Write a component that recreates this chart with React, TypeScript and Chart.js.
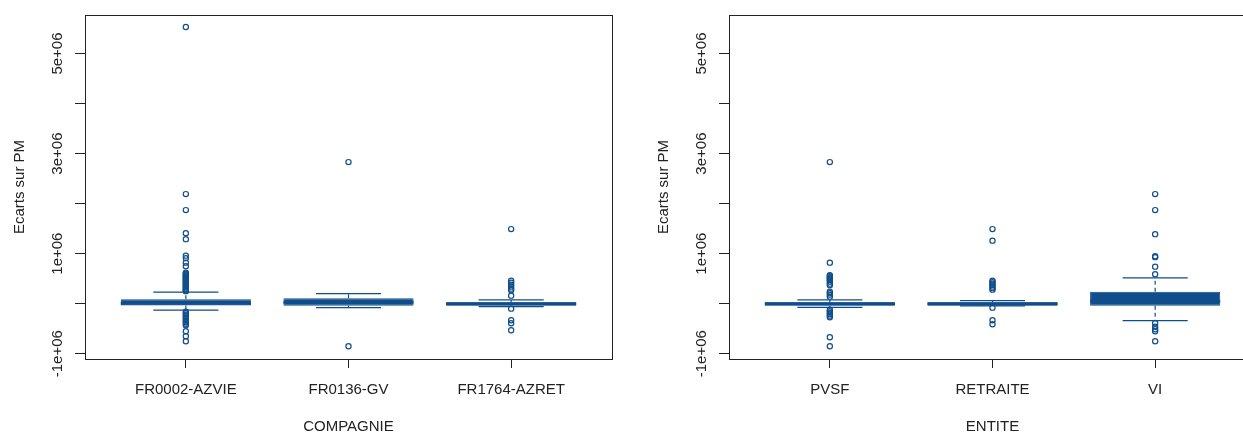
import React, { useEffect, useRef } from "react";
import { Chart, registerables } from "chart.js";

Chart.register(...registerables);

// ---- Data -----------------------------------------------------------------

const COMPAGNIE_CATEGORIES = ["FR0002-AZVIE", "FR0136-GV", "FR1764-AZRET"];
const COMPAGNIE_LOWER_WHISKER = [-130000, -80000, -60000];
const COMPAGNIE_Q1 = [-35000, -40000, -40000];
const COMPAGNIE_MEDIAN = [10000, 30000, 0];
const COMPAGNIE_Q3 = [90000, 110000, 30000];
const COMPAGNIE_UPPER_WHISKER = [230000, 200000, 74000];
const COMPAGNIE_OUTLIERS = [
  [
    5530000, 2190000, 1870000, 1410000, 1290000, 960000, 910000, 820000, 750000,
    620000, 600000, 580000, 560000, 540000, 520000, 500000, 480000, 460000,
    440000, 420000, 400000, 380000, 360000, 340000, 320000, 300000, 280000,
    260000, 250000, -160000, -190000, -220000, -250000, -280000, -310000,
    -340000, -370000, -400000, -430000, -550000, -650000, -750000,
  ],
  [2830000, -850000],
  [
    1490000, 460000, 420000, 380000, 340000, 300000, 270000, 160000, -100000,
    -330000, -390000, -530000,
  ],
];

const ENTITE_CATEGORIES = ["PVSF", "RETRAITE", "VI"];
const ENTITE_LOWER_WHISKER = [-75000, -45000, -340000];
const ENTITE_Q1 = [-40000, -40000, -40000];
const ENTITE_MEDIAN = [0, 0, 50000];
const ENTITE_Q3 = [30000, 30000, 240000];
const ENTITE_UPPER_WHISKER = [74000, 60000, 515000];
const ENTITE_OUTLIERS = [
  [
    2830000, 820000, 570000, 550000, 530000, 510000, 490000, 470000, 440000,
    400000, 370000, 240000, 210000, 180000, 140000, -120000, -150000, -180000,
    -210000, -240000, -270000, -670000, -850000,
  ],
  [
    1490000, 1260000, 460000, 430000, 400000, 370000, 340000, 310000, 280000,
    -80000, -330000, -410000,
  ],
  [
    2190000, 1870000, 1390000, 950000, 930000, 740000, 590000, -390000,
    -460000, -510000, -550000, -750000,
  ],
];

const Y_TICKS = [-1000000, 0, 1000000, 2000000, 3000000, 4000000, 5000000];
const Y_TICK_LABELS = ["-1e+06", "", "1e+06", "", "3e+06", "", "5e+06"];
const Y_TITLE = "Ecarts sur PM";

// ---- Styling --------------------------------------------------------------

const BOX_COLOR = "#104E8B";
const AXIS_COLOR = "#222222";
const TEXT_COLOR = "#222222";
const FONT_FAMILY = "'Liberation Sans', Arial, Helvetica, sans-serif";
const FONT_SIZE = 15;

const Y_MIN = -1106000;
const Y_MAX = 5770000;
const X_MIN = 0.38;
const X_MAX = 3.62;
const BOX_HALF = 0.4;
const CAP_HALF = 0.2;

const CANVAS_W = 643;
const CANVAS_H = 432;
const PLOT_LEFT = 85;
const PLOT_RIGHT = 612;
const PLOT_TOP = 15;
const PLOT_BOTTOM = 359;

type Panel = {
  categories: string[];
  lo: number[];
  q1: number[];
  med: number[];
  q3: number[];
  hi: number[];
  outliers: number[][];
  xTitle: string;
};

const COMPAGNIE_PANEL: Panel = {
  categories: COMPAGNIE_CATEGORIES,
  lo: COMPAGNIE_LOWER_WHISKER,
  q1: COMPAGNIE_Q1,
  med: COMPAGNIE_MEDIAN,
  q3: COMPAGNIE_Q3,
  hi: COMPAGNIE_UPPER_WHISKER,
  outliers: COMPAGNIE_OUTLIERS,
  xTitle: "COMPAGNIE",
};

const ENTITE_PANEL: Panel = {
  categories: ENTITE_CATEGORIES,
  lo: ENTITE_LOWER_WHISKER,
  q1: ENTITE_Q1,
  med: ENTITE_MEDIAN,
  q3: ENTITE_Q3,
  hi: ENTITE_UPPER_WHISKER,
  outliers: ENTITE_OUTLIERS,
  xTitle: "ENTITE",
};

// Draws the full rectangle around the plotting region, R style.
const framePlugin = {
  id: "plotFrame",
  afterDraw(chart: any) {
    const { ctx, chartArea: a } = chart;
    ctx.save();
    ctx.strokeStyle = AXIS_COLOR;
    ctx.lineWidth = 1;
    const l = Math.round(a.left) + 0.5;
    const t = Math.round(a.top) + 0.5;
    const r = Math.round(a.right) + 0.5;
    const b = Math.round(a.bottom) + 0.5;
    ctx.strokeRect(l, t, r - l, b - t);
    ctx.restore();
  },
};

function buildConfig(p: Panel): any {
  const boxes: any[] = [];
  const medians: any[] = [];
  const stems: any[] = [];
  const caps: any[] = [];
  const points: any[] = [];

  p.categories.forEach((_, i) => {
    const c = i + 1;
    boxes.push({ x: c, y: [p.q1[i], p.q3[i]] });
    medians.push(
      { x: c - BOX_HALF, y: p.med[i] },
      { x: c + BOX_HALF, y: p.med[i] },
      { x: c, y: null }
    );
    stems.push(
      { x: c, y: p.q3[i] },
      { x: c, y: p.hi[i] },
      { x: c, y: null },
      { x: c, y: p.q1[i] },
      { x: c, y: p.lo[i] },
      { x: c, y: null }
    );
    caps.push(
      { x: c - CAP_HALF, y: p.hi[i] },
      { x: c + CAP_HALF, y: p.hi[i] },
      { x: c, y: null },
      { x: c - CAP_HALF, y: p.lo[i] },
      { x: c + CAP_HALF, y: p.lo[i] },
      { x: c, y: null }
    );
    p.outliers[i].forEach((v) => points.push({ x: c, y: v }));
  });

  const font = { family: FONT_FAMILY, size: FONT_SIZE };

  return {
    type: "bar",
    data: {
      datasets: [
        {
          type: "scatter",
          data: points,
          order: 0,
          pointStyle: "circle",
          pointRadius: 2.6,
          pointBorderWidth: 1.2,
          borderColor: BOX_COLOR,
          backgroundColor: "rgba(255,255,255,0)",
          pointBackgroundColor: "rgba(255,255,255,0)",
          pointBorderColor: BOX_COLOR,
          clip: false,
        },
        {
          type: "line",
          data: caps,
          order: 1,
          borderColor: BOX_COLOR,
          borderWidth: 1.3,
          pointRadius: 0,
          spanGaps: false,
        },
        {
          type: "line",
          data: stems,
          order: 2,
          borderColor: BOX_COLOR,
          borderWidth: 1.2,
          borderDash: [4, 3],
          pointRadius: 0,
          spanGaps: false,
        },
        {
          type: "line",
          data: medians,
          order: 3,
          borderColor: BOX_COLOR,
          borderWidth: 3,
          pointRadius: 0,
          spanGaps: false,
        },
        {
          type: "bar",
          data: boxes,
          order: 4,
          backgroundColor: BOX_COLOR,
          borderColor: BOX_COLOR,
          borderWidth: 1,
          borderSkipped: false,
          barPercentage: 2 * BOX_HALF,
          categoryPercentage: 1,
        },
      ],
    },
    options: {
      responsive: false,
      animation: false,
      events: [],
      layout: {
        padding: {
          top: PLOT_TOP,
          right: CANVAS_W - PLOT_RIGHT,
          left: 0,
          bottom: 0,
        },
      },
      plugins: {
        legend: { display: false },
        tooltip: { enabled: false },
      },
      scales: {
        x: {
          type: "linear",
          min: X_MIN,
          max: X_MAX,
          offset: false,
          afterBuildTicks: (s: any) => {
            s.ticks = p.categories.map((_, i) => ({ value: i + 1 }));
          },
          afterFit: (s: any) => {
            s.height = CANVAS_H - PLOT_BOTTOM;
          },
          ticks: {
            autoSkip: false,
            minRotation: 0,
            maxRotation: 0,
            padding: 13,
            color: TEXT_COLOR,
            font,
            callback: (v: number) => p.categories[Math.round(v) - 1] ?? "",
          },
          grid: {
            offset: false,
            drawOnChartArea: false,
            drawTicks: true,
            tickLength: 9,
            tickColor: AXIS_COLOR,
            color: AXIS_COLOR,
          },
          border: { display: true, color: AXIS_COLOR, width: 1 },
          title: {
            display: true,
            text: p.xTitle,
            color: TEXT_COLOR,
            font,
            padding: { top: 0, bottom: -4 },
          },
        },
        y: {
          type: "linear",
          min: Y_MIN,
          max: Y_MAX,
          afterBuildTicks: (s: any) => {
            s.ticks = Y_TICKS.map((v) => ({ value: v }));
          },
          afterFit: (s: any) => {
            s.width = PLOT_LEFT;
          },
          ticks: {
            autoSkip: false,
            minRotation: 90,
            maxRotation: 90,
            crossAlign: "center",
            padding: -6,
            color: TEXT_COLOR,
            font,
            callback: (v: number) => {
              const idx = Y_TICKS.indexOf(v);
              return idx >= 0 ? Y_TICK_LABELS[idx] : "";
            },
          },
          grid: {
            drawOnChartArea: false,
            drawTicks: true,
            tickLength: 10,
            tickColor: AXIS_COLOR,
            color: AXIS_COLOR,
          },
          border: { display: true, color: AXIS_COLOR, width: 1 },
          title: {
            display: true,
            text: Y_TITLE,
            color: TEXT_COLOR,
            font,
            padding: { top: 11, bottom: 0 },
          },
        },
      },
    },
    plugins: [framePlugin],
  };
}

function BoxPanel({ panel, left }: { panel: Panel; left: number }) {
  const ref = useRef<HTMLCanvasElement>(null);
  useEffect(() => {
    if (!ref.current) return;
    const chart = new Chart(ref.current, buildConfig(panel));
    return () => chart.destroy();
  }, [panel]);
  return (
    <canvas
      ref={ref}
      width={CANVAS_W}
      height={CANVAS_H}
      style={{
        position: "absolute",
        left,
        top: 0,
        width: CANVAS_W,
        height: CANVAS_H,
      }}
    />
  );
}

export default function App() {
  return (
    <div
      style={{
        position: "fixed",
        left: 0,
        top: 0,
        width: 1243,
        height: 432,
        overflow: "hidden",
        background: "#ffffff",
      }}
    >
      <BoxPanel panel={COMPAGNIE_PANEL} left={0} />
      <BoxPanel panel={ENTITE_PANEL} left={644} />
    </div>
  );
}
